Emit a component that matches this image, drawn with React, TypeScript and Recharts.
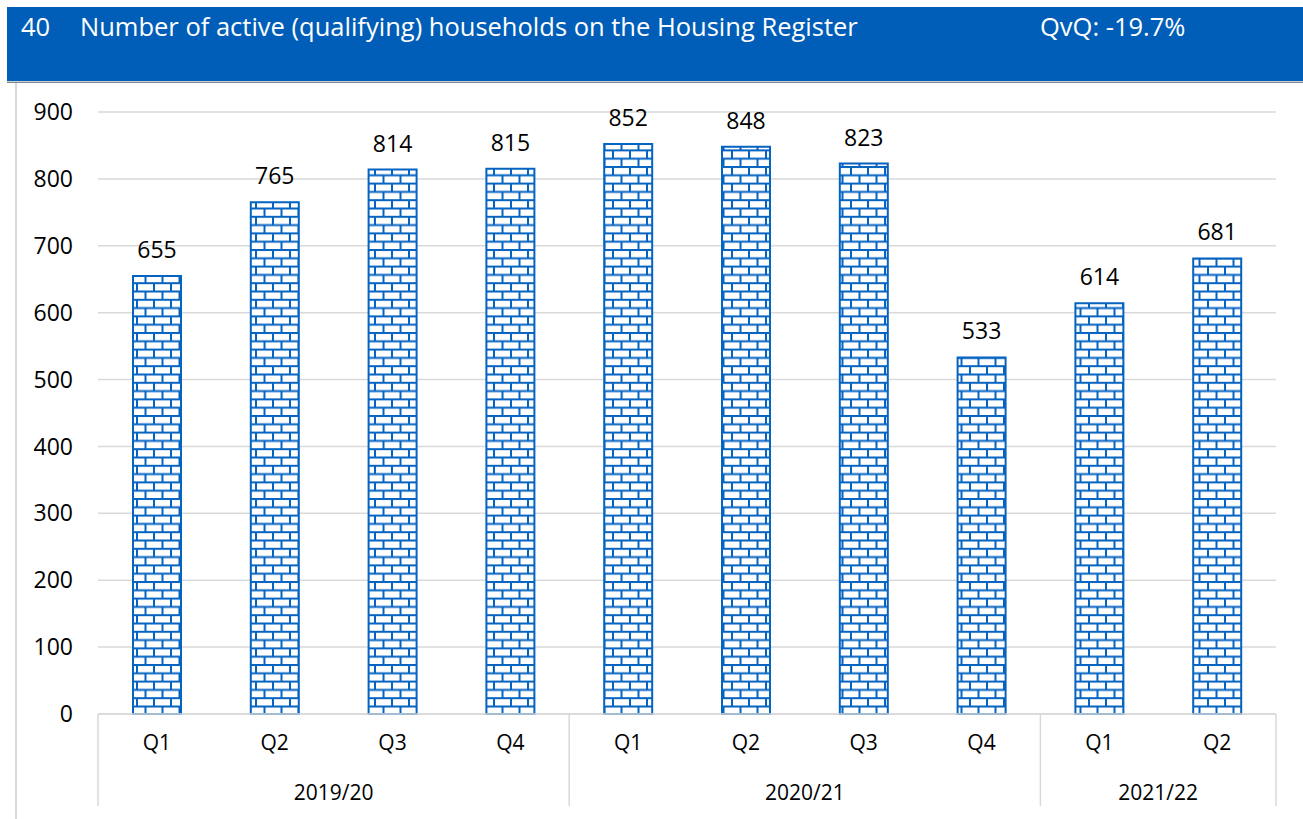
import { Bar, BarChart, CartesianGrid, LabelList, XAxis, YAxis } from "recharts";

const quarters = ["Q1", "Q2", "Q3", "Q4", "Q1", "Q2", "Q3", "Q4", "Q1", "Q2"];
const years = ["2019/20", "2020/21", "2021/22"];
const quartersPerYear = [4, 4, 2];
const households = [655, 765, 814, 815, 852, 848, 823, 533, 614, 681];
const yTicks = [0, 100, 200, 300, 400, 500, 600, 700, 800, 900];

const BLUE = "#0563C1";
const GRID = "#d9d9d9";
const FONT = "'Open Sans', sans-serif";

// fixed layout so the custom year axis can find band edges
const W = 1303;
const H = 819;
const MARGIN = { top: 112, right: 27, bottom: 13, left: 0 };
const Y_W = 98;
const Q_H = 45;
const YEAR_H = 47;
const PLOT_W = W - MARGIN.left - MARGIN.right - Y_W;
const PLOT_BOTTOM = H - MARGIN.bottom - Q_H - YEAR_H;
const BAND = PLOT_W / quarters.length;

// first bar index of each year group
const groupStarts: number[] = [];
quartersPerYear.reduce((acc, n) => {
  groupStarts.push(acc);
  return acc + n;
}, 0);

const data = households.map((value, i) => {
  const g = groupStarts.filter((s) => s <= i).length - 1;
  return { key: `${years[g]} ${quarters[i]}`, quarter: quarters[i], year: years[g], value };
});

function YearTick(props: any) {
  const { x, payload } = props;
  const i: number = payload.index;
  const g = groupStarts.indexOf(i);
  const last = i === quarters.length - 1;
  const y1 = PLOT_BOTTOM;
  const y2 = PLOT_BOTTOM + Q_H + YEAR_H;
  return (
    <g>
      {g >= 0 && (
        <>
          <line x1={x - BAND / 2} x2={x - BAND / 2} y1={y1} y2={y2} stroke={GRID} strokeWidth={1.5} />
          <text
            x={x + ((quartersPerYear[g] - 1) * BAND) / 2}
            y={PLOT_BOTTOM + 79}
            dy="0.35em"
            textAnchor="middle"
            fontSize={21}
            fontFamily={FONT}
            fill="#000"
          >
            {years[g]}
          </text>
        </>
      )}
      {last && <line x1={x + BAND / 2} x2={x + BAND / 2} y1={y1} y2={y2} stroke={GRID} strokeWidth={1.5} />}
    </g>
  );
}

function Header() {
  return (
    <>
      <div
        style={{
          position: "absolute",
          left: 7,
          top: 7,
          width: W - 7,
          height: 74,
          background: "#005EB8",
          color: "#fff",
          fontFamily: FONT,
          fontSize: 25.5,
        }}
      >
        <span style={{ position: "absolute", left: 14, top: 2 }}>40</span>
        <span style={{ position: "absolute", left: 73, top: 2 }}>
          Number of active (qualifying) households on the Housing Register
        </span>
        <span style={{ position: "absolute", left: 1033, top: 2 }}>QvQ: -19.7%</span>
      </div>
      <div style={{ position: "absolute", left: 7, top: 81, width: W - 7, height: 1, background: "#cfcfcf" }} />
      <div style={{ position: "absolute", left: 7, top: 82, width: W - 7, height: 1, background: "#7a8896" }} />
      <div style={{ position: "absolute", left: 15, top: 83, width: 1.5, height: H - 83, background: GRID }} />
    </>
  );
}

export default function App() {
  return (
    <div style={{ position: "absolute", left: 0, top: 0, width: W, height: H, background: "#fff", overflow: "hidden" }}>
      <div style={{ position: "absolute", left: 0, top: 0 }}>
        <BarChart width={W} height={H} data={data} margin={MARGIN} barSize={48}>
          <defs>
            <pattern id="brick" patternUnits="userSpaceOnUse" width={17} height={16.6}>
              <rect width={17} height={16.6} fill="#fff" />
              <line x1={0} x2={17} y1={1} y2={1} stroke={BLUE} strokeWidth={2} />
              <line x1={0} x2={17} y1={9.3} y2={9.3} stroke={BLUE} strokeWidth={2} />
              <line x1={1} x2={1} y1={1} y2={9.3} stroke={BLUE} strokeWidth={2} />
              <line x1={9.5} x2={9.5} y1={9.3} y2={16.6} stroke={BLUE} strokeWidth={2} />
            </pattern>
          </defs>
          <CartesianGrid vertical={false} stroke={GRID} strokeWidth={1.5} />
          <XAxis
            xAxisId="q"
            dataKey="key"
            height={Q_H}
            tickFormatter={(_v, i) => quarters[i]}
            axisLine={{ stroke: GRID, strokeWidth: 1.5 }}
            tickLine={false}
            tickSize={0}
            tickMargin={21}
            interval={0}
            tick={{ fontSize: 21, fontFamily: FONT, fill: "#000" }}
          />
          <XAxis
            xAxisId="year"
            dataKey="key"
            height={YEAR_H}
            axisLine={false}
            tickLine={false}
            interval={0}
            tick={<YearTick />}
          />
          <YAxis
            width={Y_W}
            domain={[0, 900]}
            ticks={yTicks}
            axisLine={false}
            tickLine={false}
            tickSize={0}
            tickMargin={25}
            tick={{ fontSize: 23, fontFamily: FONT, fill: "#000" }}
          />
          <Bar
            xAxisId="q"
            dataKey="value"
            fill="url(#brick)"
            stroke={BLUE}
            strokeWidth={2}
            isAnimationActive={false}
          >
            <LabelList dataKey="value" position="top" offset={18} fontSize={23} fontFamily={FONT} fill="#000" />
          </Bar>
        </BarChart>
      </div>
      <Header />
    </div>
  );
}
